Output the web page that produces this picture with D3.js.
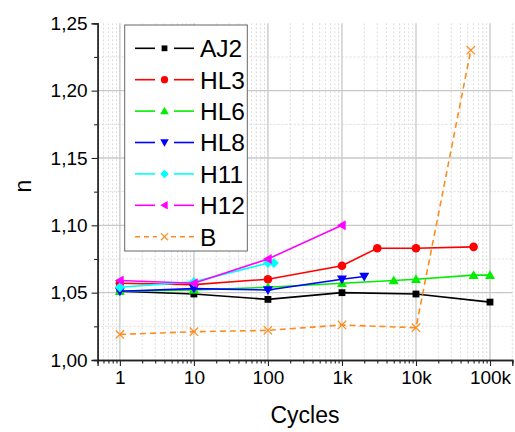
<!DOCTYPE html>
<html>
<head>
<meta charset="utf-8">
<script src="https://cdn.jsdelivr.net/npm/d3@7"></script>
<style>
html,body{margin:0;padding:0;background:#fff;}
svg{display:block;font-family:"Liberation Sans",Arial,sans-serif;}
</style>
</head>
<body>
<svg id="chart" width="515" height="432"></svg>
<script>
// ---- data ----
const seriesNames = ["AJ2","HL3","HL6","HL8","H11","H12","B"];
const ajCycles = [1,10,100,1000,10000,100000];
const ajN      = [1.051,1.049,1.045,1.050,1.049,1.043];
const hl3Cycles = [1,10,100,1000,3000,10000,60000];
const hl3N      = [1.057,1.056,1.060,1.070,1.083,1.083,1.084];
const hl6Cycles = [1,10,100,1000,5000,10000,60000,100000];
const hl6N      = [1.051,1.052,1.054,1.057,1.059,1.060,1.063,1.063];
const hl8Cycles = [1,10,100,1000,2000];
const hl8N      = [1.051,1.053,1.052,1.060,1.062];
const h11Cycles = [1,10,100,120];
const h11N      = [1.054,1.058,1.072,1.072];
const h12Cycles = [1,10,100,1000];
const h12N      = [1.059,1.057,1.075,1.100];
const bCycles = [1,10,100,1000,10000,55000];
const bN      = [1.019,1.021,1.022,1.026,1.024,1.230];
const xTickValues = [1,10,100,1000,10000,100000];
const xTickLabels = ["1","10","100","1k","10k","100k"];
const yTickValues = [1.00,1.05,1.10,1.15,1.20,1.25];
const yTickLabels = ["1,00","1,05","1,10","1,15","1,20","1,25"];

const series = [
  {name:"AJ2", x:ajCycles,  y:ajN,  color:"#000000", sym:"square",  dash:null},
  {name:"HL3", x:hl3Cycles, y:hl3N, color:"#ff0000", sym:"circle",  dash:null},
  {name:"HL6", x:hl6Cycles, y:hl6N, color:"#00ee00", sym:"triUp",   dash:null},
  {name:"HL8", x:hl8Cycles, y:hl8N, color:"#0000ff", sym:"triDown", dash:null},
  {name:"H11", x:h11Cycles, y:h11N, color:"#00ffff", sym:"diamond", dash:null},
  {name:"H12", x:h12Cycles, y:h12N, color:"#ff00ff", sym:"triLeft", dash:null},
  {name:"B",   x:bCycles,   y:bN,   color:"#ff8c1a", sym:"cross",   dash:"6,4"}
];

// ---- layout ----
const svg = d3.select("#chart");
const L = 97.6, R = 512.3, T = 23.3, B = 360;
const x = d3.scaleLog().domain([0.5, 200000]).range([L, R]);
const y = d3.scaleLinear().domain([1.00, 1.25]).range([B, T]);

// grid
const grid = svg.append("g");
const minorX = [];
for (let e = -1; e <= 5; e++) for (let m = 1; m <= 9; m++) {
  const v = m * Math.pow(10, e);
  if (v >= 0.5 && v <= 200000) minorX.push(v);
}
const minorXOnly = minorX.filter(v => !xTickValues.includes(v));
grid.selectAll(".gxm").data(minorXOnly).enter().append("line")
  .attr("x1", d => x(d)).attr("x2", d => x(d)).attr("y1", T).attr("y2", B)
  .attr("stroke", "#dcdcdc").attr("stroke-width", 1).attr("stroke-dasharray", "2,2");
const minorY = d3.range(0, 11).map(i => 1.0 + i * 0.025).filter(v => Math.abs((v*1000) % 50) > 1 && Math.abs((v*1000)%50-50) > 1);
grid.selectAll(".gym").data(minorY).enter().append("line")
  .attr("x1", L).attr("x2", R).attr("y1", d => y(d)).attr("y2", d => y(d))
  .attr("stroke", "#dcdcdc").attr("stroke-width", 1).attr("stroke-dasharray", "2,2");
grid.selectAll(".gx").data(xTickValues).enter().append("line")
  .attr("x1", d => x(d)).attr("x2", d => x(d)).attr("y1", T).attr("y2", B)
  .attr("stroke", "#c8c8c8").attr("stroke-width", 1.3);
grid.selectAll(".gy").data(yTickValues.slice(1, 5)).enter().append("line")
  .attr("x1", L).attr("x2", R).attr("y1", d => y(d)).attr("y2", d => y(d))
  .attr("stroke", "#c8c8c8").attr("stroke-width", 1.3);

// axes
const xAxisMinor = d3.axisBottom(x).tickValues(minorXOnly).tickSize(3.5).tickFormat("");
const xAxisMajor = d3.axisBottom(x).tickValues(xTickValues).tickSize(6).tickPadding(5)
  .tickFormat((d, i) => xTickLabels[i]);
const yAxisMinor = d3.axisLeft(y).tickValues(minorY).tickSize(3.5).tickFormat("");
const yAxisMajor = d3.axisLeft(y).tickValues(yTickValues).tickSize(6).tickPadding(4)
  .tickFormat((d, i) => yTickLabels[i]);

function styleAxis(g){
  g.selectAll(".domain").attr("stroke", "#222").attr("stroke-width", 1.3);
  g.selectAll(".tick line").attr("stroke", "#222").attr("stroke-width", 1.1);
  g.selectAll("text").attr("font-size", 19).attr("fill", "#000")
    .attr("font-family", "'Liberation Sans',Arial,sans-serif");
}
svg.append("g").attr("transform", `translate(0,${B})`).call(xAxisMinor).call(styleAxis);
svg.append("g").attr("transform", `translate(0,${B})`).call(xAxisMajor).call(styleAxis);
svg.append("g").attr("transform", `translate(${L},0)`).call(yAxisMinor).call(styleAxis);
svg.append("g").attr("transform", `translate(${L},0)`).call(yAxisMajor).call(styleAxis);

// axis titles
svg.append("text").attr("x", (L + R) / 2).attr("y", 423).attr("text-anchor", "middle")
  .attr("font-size", 23).text("Cycles");
svg.append("text").attr("transform", "translate(31,186) rotate(-90)").attr("text-anchor", "middle")
  .attr("font-size", 23).text("n");

// symbols
function drawSymbol(g, sym, color, cx, cy, s){
  const k = s || 1;
  if (sym === "square") {
    g.append("rect").attr("x", cx - 3.4*k).attr("y", cy - 3.4*k).attr("width", 6.8*k).attr("height", 6.8*k).attr("fill", color);
  } else if (sym === "circle") {
    g.append("circle").attr("cx", cx).attr("cy", cy).attr("r", 4.3*k).attr("fill", color);
  } else if (sym === "triUp") {
    const r = 5*k;
    g.append("path").attr("d", `M${cx},${cy - r}L${cx + r},${cy + r*0.75}L${cx - r},${cy + r*0.75}Z`).attr("fill", color);
  } else if (sym === "triDown") {
    const r = 5*k;
    g.append("path").attr("d", `M${cx},${cy + r}L${cx + r},${cy - r*0.75}L${cx - r},${cy - r*0.75}Z`).attr("fill", color);
  } else if (sym === "triLeft") {
    const r = 5*k;
    g.append("path").attr("d", `M${cx - r},${cy}L${cx + r*0.75},${cy - r}L${cx + r*0.75},${cy + r}Z`).attr("fill", color);
  } else if (sym === "diamond") {
    const r = 5*k;
    g.append("path").attr("d", `M${cx},${cy - r}L${cx + r},${cy}L${cx},${cy + r}L${cx - r},${cy}Z`).attr("fill", color);
  } else if (sym === "cross") {
    const r = 4.2*k;
    g.append("path").attr("d", `M${cx - r},${cy - r}L${cx + r},${cy + r}M${cx - r},${cy + r}L${cx + r},${cy - r}`)
      .attr("stroke", color).attr("stroke-width", 1.2).attr("fill", "none");
  }
}

// series
const line = d3.line().x(d => x(d[0])).y(d => y(d[1]));
series.forEach(s => {
  const pts = s.x.map((v, i) => [v, s.y[i]]);
  const g = svg.append("g");
  g.append("path").attr("d", line(pts)).attr("fill", "none").attr("stroke", s.color)
    .attr("stroke-width", 1.6).attr("stroke-dasharray", s.dash);
  pts.forEach(p => drawSymbol(g, s.sym, s.color, x(p[0]), y(p[1])));
});

// legend
const lg = svg.append("g");
lg.append("rect").attr("x", 124.7).attr("y", 25).attr("width", 122.6).attr("height", 226)
  .attr("fill", "#fff").attr("stroke", "#666").attr("stroke-width", 1);
series.forEach((s, i) => {
  const cy = 48.3 + i * 31.4;
  if (s.dash) {
    lg.append("line").attr("x1", 135).attr("x2", 194).attr("y1", cy).attr("y2", cy)
      .attr("stroke", s.color).attr("stroke-width", 1.6).attr("stroke-dasharray", "5,4");
    lg.append("rect").attr("x", 157).attr("y", cy - 6).attr("width", 14).attr("height", 12).attr("fill", "#fff");
  } else {
    lg.append("line").attr("x1", 135).attr("x2", 155).attr("y1", cy).attr("y2", cy)
      .attr("stroke", s.color).attr("stroke-width", 1.6);
    lg.append("line").attr("x1", 174).attr("x2", 194).attr("y1", cy).attr("y2", cy)
      .attr("stroke", s.color).attr("stroke-width", 1.6);
  }
  drawSymbol(lg, s.sym, s.color, 164.5, cy, 0.85);
  lg.append("text").attr("x", 200).attr("y", cy + 8.8).attr("font-size", 24.5).attr("fill", "#000").text(s.name);
});
</script>
</body>
</html>
